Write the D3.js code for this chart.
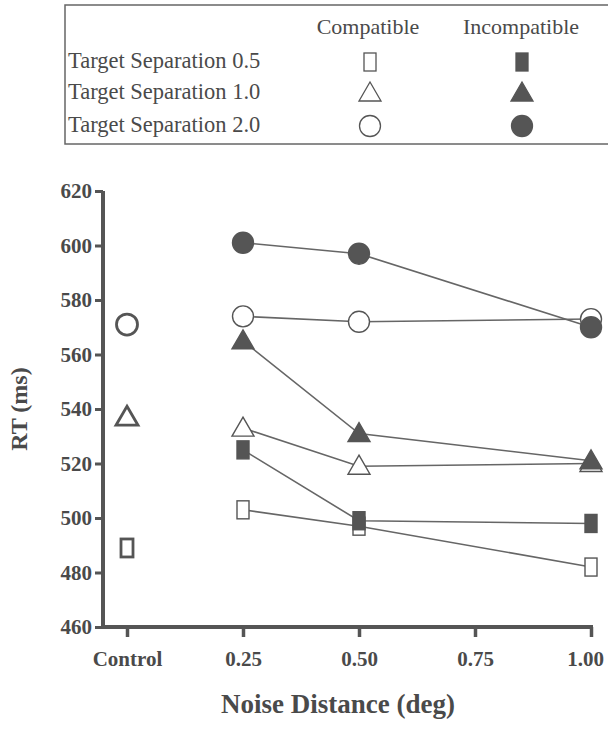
<!DOCTYPE html>
<html>
<head>
<meta charset="utf-8">
<script src="https://cdn.jsdelivr.net/npm/d3@7"></script>
<style>
  body { margin: 0; background: #fff; }
  svg { font-family: "Liberation Serif", "DejaVu Serif", serif; }
</style>
</head>
<body>
<svg id="chart" width="608" height="729"></svg>
<script>
// values
const distances = [0.25, 0.50, 1.00]
const separations = ["0.5", "1.0", "2.0"]
const shapes = ["square", "triangle", "circle"]
const controlRT = [489, 537, 571]
const compatibleRT = [
  [503, 497, 482],
  [533, 519, 520],
  [574, 572, 573]
]
const incompatibleRT = [
  [525, 499, 498],
  [565, 531, 521],
  [601, 597, 570]
]
const xTicks = [0, 0.25, 0.50, 0.75, 1.00]
const xTickLabels = ["Control", "0.25", "0.50", "0.75", "1.00"]
const yTicks = [460, 480, 500, 520, 540, 560, 580, 600, 620]

const ink = "#4a4a4a"
const svg = d3.select("#chart")

const xScale = d3.scaleLinear().domain([0, 1]).range([127, 591])
const yScale = d3.scaleLinear().domain([460, 620]).range([627, 191])

// draws one marker; cx, cy already in pixels from the scales
const drawMarker = (g, shape, cx, cy, filled, sw) => {
  const fill = filled ? "#555" : "#fff"
  if (shape === "square") {
    g.append("rect")
      .attr("x", cx - 6).attr("y", cy - 9)
      .attr("width", 12).attr("height", 18)
      .attr("fill", fill).attr("stroke", "#555").attr("stroke-width", sw)
  } else if (shape === "triangle") {
    g.append("path")
      .attr("d", `M${cx},${cy - 11}L${cx + 11},${cy + 8}L${cx - 11},${cy + 8}Z`)
      .attr("fill", fill).attr("stroke", "#555").attr("stroke-width", sw)
      .attr("stroke-linejoin", "miter")
  } else {
    g.append("circle")
      .attr("cx", cx).attr("cy", cy).attr("r", 10.5)
      .attr("fill", fill).attr("stroke", "#555").attr("stroke-width", sw)
  }
}

// legend
const legend = svg.append("g")
legend.append("rect")
  .attr("x", 65).attr("y", 5).attr("width", 600).attr("height", 139)
  .attr("fill", "none").attr("stroke", "#666").attr("stroke-width", 1.5)

legend.append("text").attr("x", 368).attr("y", 34).attr("text-anchor", "middle")
  .attr("font-size", 22).attr("fill", ink).text("Compatible")
legend.append("text").attr("x", 521).attr("y", 34).attr("text-anchor", "middle")
  .attr("font-size", 22).attr("fill", ink).text("Incompatible")

const rowY = [62, 93, 126]
separations.forEach((sep, i) => {
  legend.append("text").attr("x", 68).attr("y", rowY[i] + 6)
    .attr("font-size", 22.5).attr("fill", ink)
    .text(`Target Separation ${sep}`)
  drawMarker(legend, shapes[i], 370, rowY[i], false, 1.3)
  drawMarker(legend, shapes[i], 522, rowY[i], true, 1.3)
})

// axes
const yAxis = svg.append("g")
  .attr("transform", "translate(103,0)")
  .call(d3.axisLeft(yScale).tickValues(yTicks).tickSize(8).tickPadding(3).tickFormat(d3.format("d")))
yAxis.select(".domain").attr("stroke", "#555").attr("stroke-width", 4)
  .attr("d", `M0,${yScale(620)}V${yScale(460) + 2}`)
yAxis.selectAll(".tick line").attr("stroke", "#555").attr("stroke-width", 3)
yAxis.selectAll(".tick text")
  .attr("font-size", 21).attr("font-weight", "bold").attr("fill", ink)
  .attr("font-family", "Liberation Serif, serif")

const xAxis = svg.append("g")
  .attr("transform", `translate(0,${yScale(460)})`)
  .call(d3.axisBottom(xScale).tickValues(xTicks).tickSize(10).tickPadding(14)
    .tickFormat((d, i) => xTickLabels[i]))
xAxis.select(".domain").attr("stroke", "#555").attr("stroke-width", 4)
  .attr("d", `M101,0H${xScale(1) + 2}`)
xAxis.selectAll(".tick line").attr("stroke", "#555").attr("stroke-width", 3.5)
xAxis.selectAll(".tick text")
  .attr("font-size", 21).attr("font-weight", "bold").attr("fill", ink)
  .attr("font-family", "Liberation Serif, serif")
  .attr("dx", d => d === 1 ? -6 : 0)

svg.append("text")
  .attr("transform", `translate(27,${yScale(540)}) rotate(-90)`)
  .attr("text-anchor", "middle")
  .attr("font-size", 24).attr("font-weight", "bold").attr("fill", ink)
  .text("RT (ms)")

svg.append("text")
  .attr("x", 338).attr("y", 713).attr("text-anchor", "middle")
  .attr("font-size", 27).attr("font-weight", "bold").attr("fill", ink)
  .text("Noise Distance (deg)")

// lines
const line = d3.line().x((d, i) => xScale(distances[i])).y(d => yScale(d))
const plot = svg.append("g")
const allSeries = []
separations.forEach((sep, i) => {
  allSeries.push({ shape: shapes[i], filled: false, values: compatibleRT[i] })
  allSeries.push({ shape: shapes[i], filled: true, values: incompatibleRT[i] })
})

plot.selectAll(".series")
  .data(allSeries)
  .enter()
  .append("path")
  .classed("series", true)
  .attr("d", d => line(d.values))
  .attr("fill", "none")
  .attr("stroke", "#666")
  .attr("stroke-width", 1.6)

allSeries.forEach(s => {
  s.values.forEach((v, i) => {
    drawMarker(plot, s.shape, xScale(distances[i]), yScale(v), s.filled, 1.4)
  })
})

// control conditions
controlRT.forEach((v, i) => {
  drawMarker(plot, shapes[i], xScale(0), yScale(v), false, 2.8)
})
</script>
</body>
</html>
